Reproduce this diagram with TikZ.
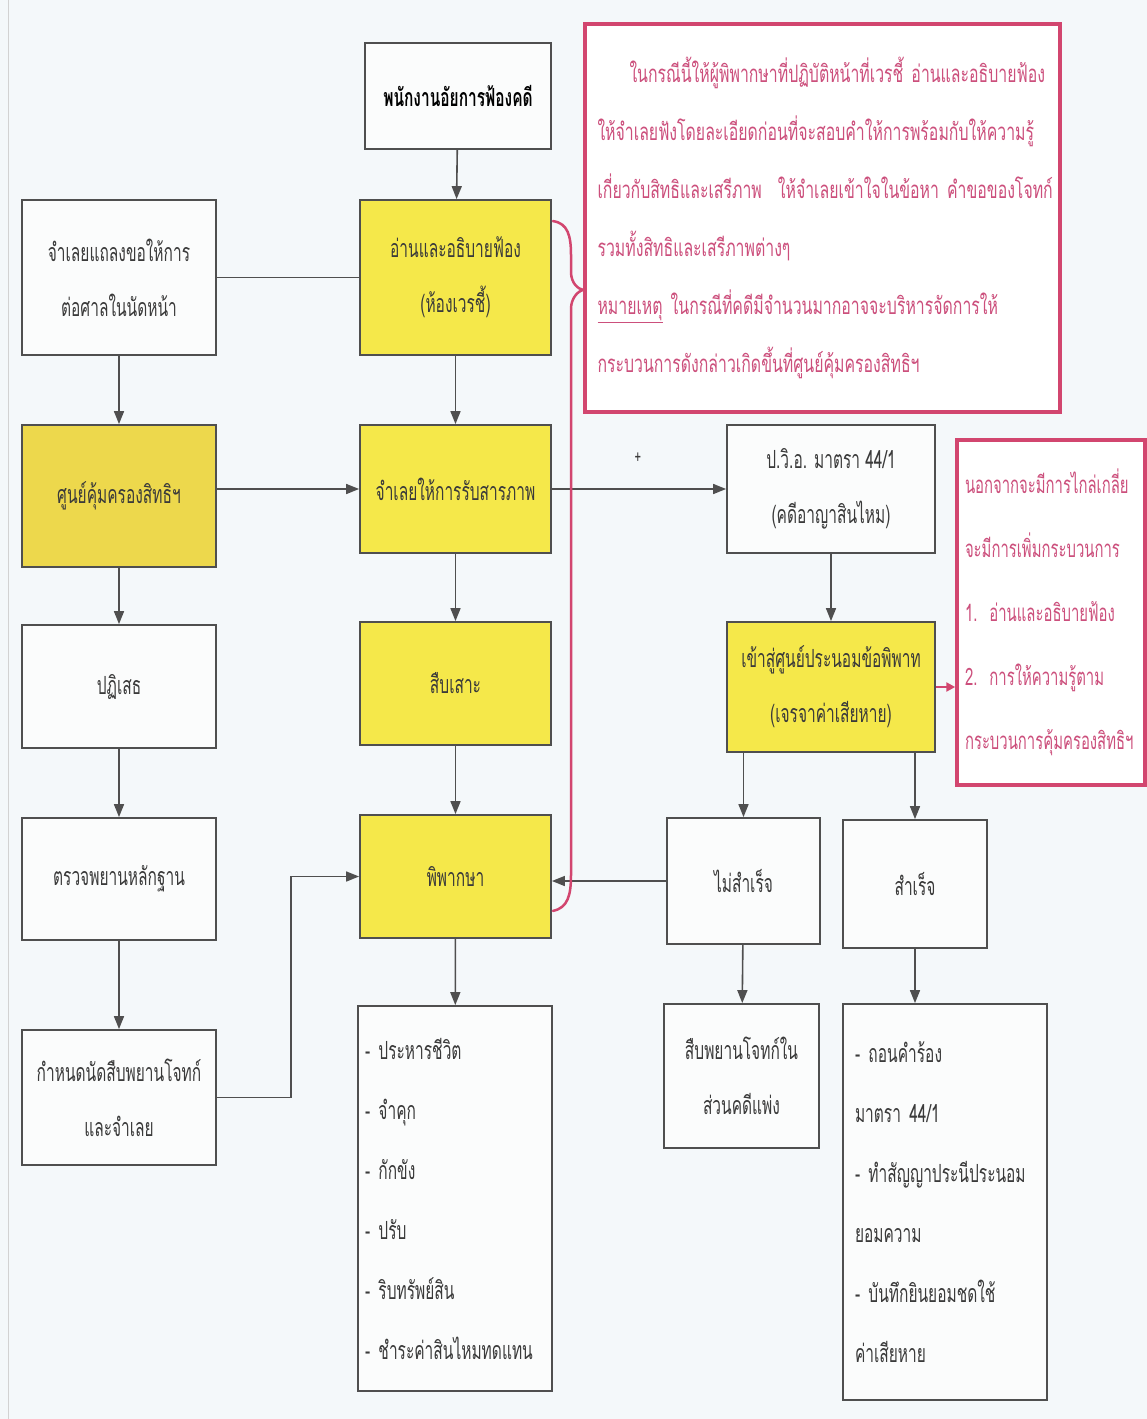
\documentclass[tikz,border=0pt]{standalone}
\usepackage{fontspec}
\setmainfont{Loma}[Script=Thai,FakeStretch=0.62]
\newfontfamily\notefont{Loma}[Script=Thai,FakeStretch=0.66]
\usetikzlibrary{arrows.meta,calc}
\definecolor{bg}{HTML}{F4F8FA}
\definecolor{boxfill}{HTML}{FBFCFC}
\definecolor{ylw}{HTML}{F5E84A}
\definecolor{ylwb}{HTML}{EDD84C}
\definecolor{edge}{HTML}{4F4F4F}
\definecolor{txt}{HTML}{3A3A3A}
\definecolor{pk}{HTML}{D2466F}
\definecolor{pktxt}{HTML}{CC4F7C}
\begin{document}
\begin{tikzpicture}[x=1pt,y=-1pt,
  box/.style={draw=edge, line width=1.8pt, fill=boxfill, text=txt, align=center, inner sep=0pt,
    font=\fontsize{25}{55}\selectfont},
  ybox/.style={box, fill=ylw},
  listbox/.style={box, align=left, text width=#1, font=\fontsize{25}{60}\selectfont},
  note/.style={draw=pk, line width=3.5pt, fill=white, text=pktxt, align=left, inner sep=0pt,
    font=\fontsize{24}{58}\selectfont},
  arr/.style={draw=edge, line width=1.6pt, -{Triangle[length=13pt,width=10pt]}},
  ln/.style={draw=edge, line width=1.6pt},
  parr/.style={draw=pk, line width=2.5pt, -{Triangle[length=9pt,width=9pt]}},
]
\fill[bg] (0,0) rectangle (1147,1419);
\useasboundingbox (0,0) rectangle (1147,1419);
\draw[gray!35, line width=1pt] (8,0) -- (8,1419);

% centre column
\node[box, minimum width=186pt, minimum height=106pt, text=black] (top) at (458,96) {\bfseries พนักงานอัยการฟ้องคดี};
\node[ybox, minimum width=191pt, minimum height=155pt] (read) at (455.5,277.5) {อ่านและอธิบายฟ้อง\\(ห้องเวรชี้)};
\node[ybox, minimum width=191pt, minimum height=128pt] (confess) at (455.5,489) {จำเลยให้การรับสารภาพ};
\node[ybox, minimum width=191pt, minimum height=123pt] (probe) at (455.5,683.5) {สืบเสาะ};
\node[ybox, minimum width=191pt, minimum height=123pt] (judge) at (455.5,876.5) {พิพากษา};
\node[listbox=180pt, minimum width=194pt, minimum height=385pt] (sent) at (455,1198.5)
  {- ประหารชีวิต\\- จำคุก\\- กักขัง\\- ปรับ\\- ริบทรัพย์สิน\\- ชำระค่าสินไหมทดแทน};

% left column
\node[box, minimum width=194pt, minimum height=155pt] (l1) at (119,277.5) {จำเลยแถลงขอให้การ\\ต่อศาลในนัดหน้า};
\node[box, fill=ylwb, minimum width=194pt, minimum height=142pt] (l2) at (119,496) {ศูนย์คุ้มครองสิทธิฯ};
\node[box, minimum width=194pt, minimum height=123pt] (l3) at (119,686.5) {ปฏิเสธ};
\node[box, minimum width=194pt, minimum height=122pt] (l4) at (119,879) {ตรวจพยานหลักฐาน};
\node[box, minimum width=194pt, minimum height=135pt] (l5) at (119,1097.5) {กำหนดนัดสืบพยานโจทก์\\และจำเลย};

% right column
\node[box, minimum width=208pt, minimum height=128pt] (law) at (831,489) {ป.วิ.อ. มาตรา 44/1\\(คดีอาญาสินไหม)};
\node[ybox, minimum width=208pt, minimum height=130pt] (med) at (831,687) {เข้าสู่ศูนย์ประนอมข้อพิพาท\\(เจรจาค่าเสียหาย)};
\node[box, minimum width=153pt, minimum height=126pt] (fail) at (743.5,881) {ไม่สำเร็จ};
\node[box, minimum width=144pt, minimum height=128pt] (succ) at (915,884) {สำเร็จ};
\node[box, minimum width=155pt, minimum height=144pt] (civil) at (741.5,1076) {สืบพยานโจทก์ใน\\ส่วนคดีแพ่ง};
\node[listbox=180pt, minimum width=204pt, minimum height=396pt] (settle) at (945,1202)
  {- ถอนคำร้อง\\มาตรา 44/1\\- ทำสัญญาประนีประนอม\\ยอมความ\\- บันทึกยินยอมชดใช้\\ค่าเสียหาย};

% pink notes
\node[note, text width=450pt, minimum width=475pt, minimum height=388pt,
  font=\notefont\fontsize{24}{58}\selectfont] (note1) at (822.5,218)
  {\mbox{\hspace*{32pt}ในกรณีนี้ให้ผู้พิพากษาที่ปฏิบัติหน้าที่เวรชี้ อ่านและอธิบายฟ้อง}\\
   \mbox{ให้จำเลยฟังโดยละเอียดก่อนที่จะสอบคำให้การพร้อมกับให้ความรู้}\\
   \mbox{เกี่ยวกับสิทธิและเสรีภาพ\ \ ให้จำเลยเข้าใจในข้อหา คำขอของโจทก์}\\
   \mbox{รวมทั้งสิทธิและเสรีภาพต่างๆ}\\
   \mbox{\underline{หมายเหตุ} ในกรณีที่คดีมีจำนวนมากอาจจะบริหารจัดการให้}\\
   \mbox{กระบวนการดังกล่าวเกิดขึ้นที่ศูนย์คุ้มครองสิทธิฯ}};
\node[note, text width=172pt, minimum width=188pt, minimum height=345pt,
  font=\fontsize{24}{64}\selectfont] (note2) at (1051,612.5)
  {นอกจากจะมีการไกล่เกลี่ย\\จะมีการเพิ่มกระบวนการ\\1.\enspace อ่านและอธิบายฟ้อง\\2.\enspace การให้ความรู้ตาม\\กระบวนการคุ้มครองสิทธิฯ};

% connectors
\draw[arr] (top) -- (read);
\draw[ln] (l1.east) -- (l1.east -| read.west);
\draw[arr] (read) -- (confess);
\draw[arr] (confess) -- (probe);
\draw[arr] (probe) -- (judge);
\draw[arr] (judge) -- (sent);
\draw[arr] (l1) -- (l2);
\draw[arr] (confess.west -| l2.east) -- (confess.west);
\draw[arr] (l2) -- (l3);
\draw[arr] (l3) -- (l4);
\draw[arr] (l4) -- (l5);
\draw[arr] (l5.east) -- ++(74,0) |- (judge.west);
\draw[arr] (confess.east) -- (law.west);
\node[text=txt, font=\fontsize{18}{18}\selectfont] (plus) at (638,458) {+};
\draw[arr] (law) -- (med);
\draw[arr] (fail.north |- med.south) -- (fail.north);
\draw[arr] (succ.north |- med.south) -- (succ.north);
\draw[arr] (fail.west) -- (fail.west -| judge.east);
\draw[arr] (fail) -- (civil);
\draw[arr] (succ.south) -- (succ.south |- settle.north);
\draw[parr] (med.east) -- (med.east -| note2.west);

% pink brace
\coordinate (bA) at ($(read.north east)+(1,22)$);
\coordinate (bB) at ($(judge.south east)+(1,-28)$);
\coordinate (bT) at (note1.west |- 0,290);
\draw[pk, line width=2.5pt, line cap=round]
  (bA) .. controls ++(15,2) and (571,236) .. (571,255) -- (571,272)
  .. controls (571,283) and (578,289) .. (bT)
  .. controls (578,291) and (571,298) .. (571,309) -- (571,875)
  .. controls (571,895) and ($(bB)+(15,-3)$) .. (bB);
\end{tikzpicture}
\end{document}
